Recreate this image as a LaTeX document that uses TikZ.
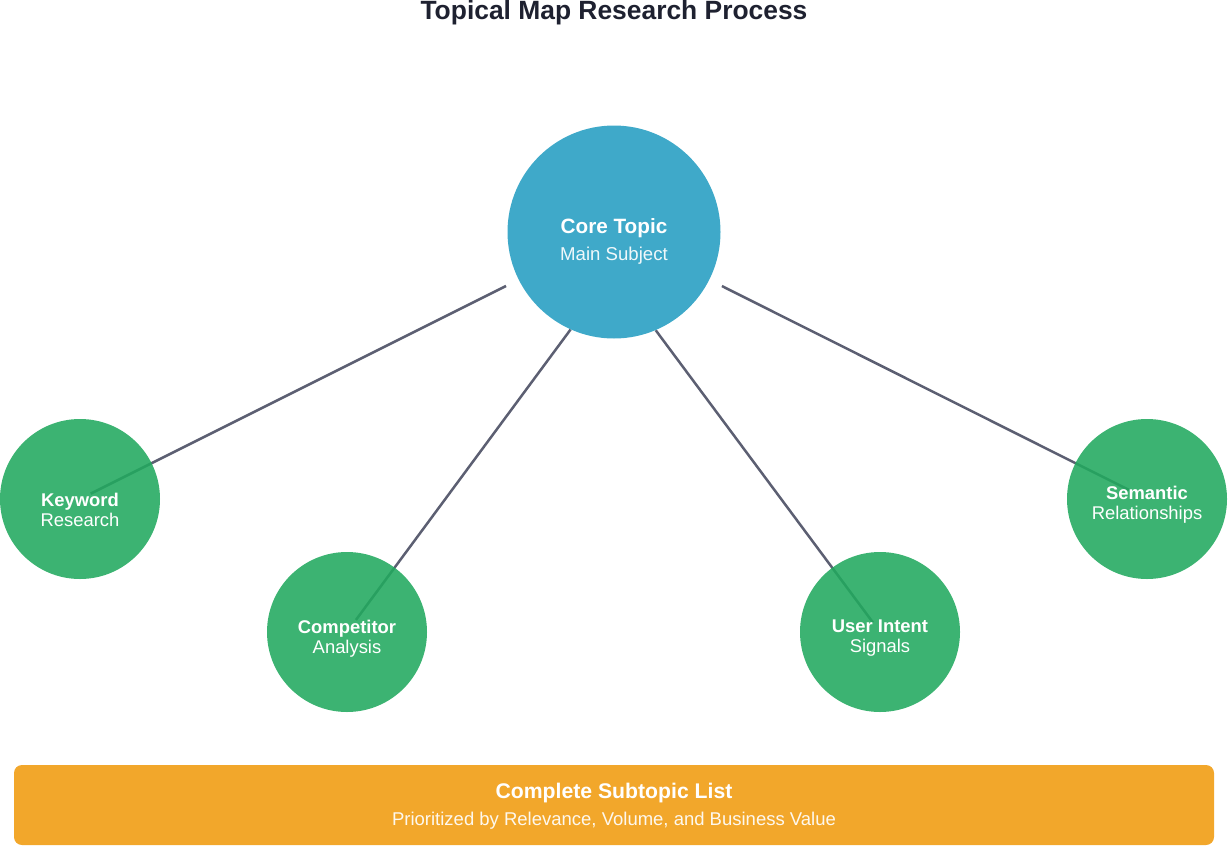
\documentclass[tikz,border=0pt]{standalone}
\usepackage{fontspec}
\setmainfont{Liberation Sans}
\usetikzlibrary{backgrounds}
\definecolor{coreblue}{HTML}{3FA9C9}
\definecolor{subgreen}{HTML}{21A95E}
\definecolor{listorange}{HTML}{F2A72B}
\definecolor{linkgray}{HTML}{5C5F72}
\definecolor{titleink}{HTML}{1E2130}

\begin{document}
\begin{tikzpicture}[x=1pt,y=-1pt,
        core/.style={circle,fill=coreblue,minimum size=213pt,inner sep=0pt},
        sub/.style={circle,fill=subgreen,fill opacity=0.88,minimum size=160pt,inner sep=0pt},
        bar/.style={rectangle,rounded corners=8pt,fill=listorange,minimum width=1200pt,
            minimum height=80pt,inner sep=0pt},
        link/.style={draw=linkgray,line width=2.5pt},
        head/.style={anchor=base,text=white,font=\bfseries\fontsize{18.4}{20}\selectfont},
        note/.style={anchor=base,text=white,font=\fontsize{18.4}{20}\selectfont}]
\useasboundingbox (0,0) rectangle (1228,846);

\node[anchor=base,text=titleink,font=\bfseries\fontsize{26.4}{30}\selectfont] (title) at (614,19) {Topical Map Research Process};

% core and subtopic circles
\node[core] (core) at (614,232) {};
\node[head,font=\bfseries\fontsize{20.7}{24}\selectfont] (corea) at (614,233) {Core Topic};
\node[note,text opacity=0.92,font=\fontsize{18.6}{22}\selectfont] (coreb) at (614,260) {Main Subject};

\node[sub] (kw) at (80,499) {};
\node[head] (kwa) at (80,506) {Keyword};
\node[note] (kwb) at (80,526) {Research};

\node[sub] (comp) at (347,632) {};
\node[head] (compa) at (347,633) {Competitor};
\node[note] (compb) at (347,653) {Analysis};

\node[sub] (ui) at (880,632) {};
\node[head] (uia) at (880,632) {User Intent};
\node[note] (uib) at (880,652) {Signals};

\node[sub] (sem) at (1147,499) {};
\node[head] (sema) at (1147,499) {Semantic};
\node[note] (semb) at (1147,519) {Relationships};

% links, behind the circles
\begin{scope}[on background layer]
\draw[link,shorten <=14pt,shorten >=12pt] (core) -- (kw.center);
\draw[link,shorten >=15pt] (core.246.7) -- (comp.center);
\draw[link,shorten >=12pt] (core.293) -- (ui.center);
\draw[link,shorten <=14pt,shorten >=20pt] (core) -- (sem.center);
\end{scope}

% result bar
\node[bar] (list) at (614,805) {};
\node[head,font=\bfseries\fontsize{21.2}{24}\selectfont] (lista) at (614,798) {Complete Subtopic List};
\node[note,text opacity=0.92,font=\fontsize{18.5}{22}\selectfont] (listb) at (614,825) {Prioritized by Relevance, Volume, and Business Value};

\end{tikzpicture}
\end{document}
